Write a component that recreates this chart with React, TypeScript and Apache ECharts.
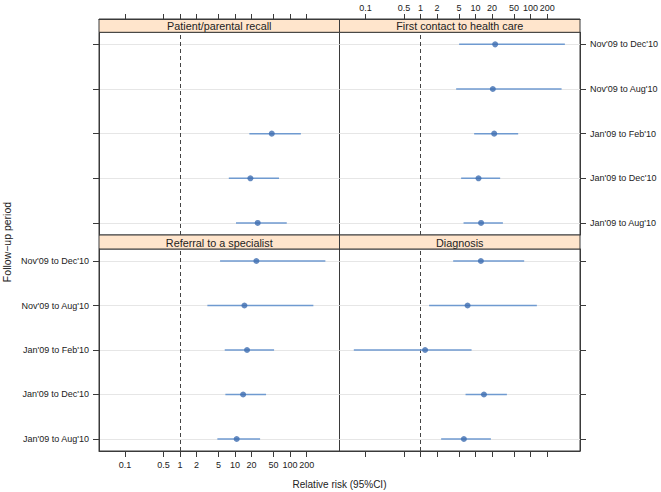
import React, { useEffect, useRef } from "react";
import * as echarts from "echarts";

// Follow-up periods, bottom row first
const periods = [
  "Jan'09 to Aug'10",
  "Jan'09 to Dec'10",
  "Jan'09 to Feb'10",
  "Nov'09 to Aug'10",
  "Nov'09 to Dec'10",
];

const panelTitles = [
  "Patient/parental recall",
  "First contact to health care",
  "Referral to a specialist",
  "Diagnosis",
];

const xTicks = [0.1, 0.5, 1, 2, 5, 10, 20, 50, 100, 200];

// Relative risks with 95% CI, per panel (same order as periods)
const recallRR = [25.8, 19.0, 46.5, null, null];
const recallLo = [10.4, 7.7, 18.2, null, null];
const recallHi = [87, 63, 157, null, null];

const firstRR = [12.6, 11.3, 21.8, 20.6, 22.7];
const firstLo = [6.05, 5.47, 9.43, 4.44, 5.03];
const firstHi = [31.4, 28, 59.5, 366, 420];

const referralRR = [10.7, 14.0, 16.5, 14.8, 24.4];
const referralLo = [4.77, 6.67, 6.49, 3.14, 5.34];
const referralHi = [28.5, 36.6, 51.2, 265, 438];

const diagRR = [6.13, 14.2, 1.21, 7.16, 12.5];
const diagLo = [2.37, 6.58, 0.0613, 1.43, 3.92];
const diagHi = [19.0, 37.1, 8.46, 130, 76.5];

const panelRR = [recallRR, firstRR, referralRR, diagRR];
const panelLo = [recallLo, firstLo, referralLo, diagLo];
const panelHi = [recallHi, firstHi, referralHi, diagHi];

const FONT = "'Liberation Sans', Arial, Helvetica, sans-serif";
const BORDER = "#3a3a3a";
const TEXT = "#222";
const DOT = "#3d6db0";
const CI = "#6f9ad0";
const STRIP = "#FFE5CC";

const XMIN = Math.pow(10, -1.4727);
const XMAX = Math.pow(10, 2.8982);

export default function App() {
  const ref = useRef<HTMLDivElement>(null);

  useEffect(() => {
    if (!ref.current) return;
    const chart = echarts.init(ref.current, null, { renderer: "svg" });

    const L = 99;
    const W = 240.5;
    const panels = [
      { left: L, top: 32.3, height: 202.7, stripTop: 19 },
      { left: L + W, top: 32.3, height: 202.7, stripTop: 19 },
      { left: L, top: 249, height: 202, stripTop: 235 },
      { left: L + W, top: 249, height: 202, stripTop: 235 },
    ];

    const grid = panels.map((p) => ({
      left: p.left,
      top: p.top,
      width: W,
      height: p.height,
      show: true,
      borderColor: BORDER,
      borderWidth: 1,
      backgroundColor: "transparent",
      containLabel: false,
    }));

    const xAxis = panels.map((p, i) => ({
      type: "log",
      logBase: 10,
      gridIndex: i,
      min: XMIN,
      max: XMAX,
      position: i < 2 ? "top" : "bottom",
      offset: i < 2 ? p.top - p.stripTop : 0,
      axisLine: { show: true, onZero: false, lineStyle: { color: BORDER, width: 1 } },
      axisTick: {
        show: true,
        inside: false,
        length: i < 2 ? 5 : 6,
        customValues: xTicks,
        lineStyle: { color: BORDER, width: 1 },
      },
      axisLabel: {
        show: i === 1 || i === 2,
        customValues: xTicks,
        formatter: (v: number) => String(v),
        fontSize: 9,
        color: TEXT,
        fontFamily: FONT,
        margin: i < 2 ? 7 : 9,
      },
      splitLine: { show: false },
      minorTick: { show: false },
      minorSplitLine: { show: false },
    }));

    const yAxis = panels.map((p, i) => ({
      type: "value",
      gridIndex: i,
      min: 0.73,
      max: 5.27,
      position: i % 2 === 0 ? "left" : "right",
      axisLine: { show: true, onZero: false, lineStyle: { color: BORDER, width: 1 } },
      axisTick: {
        show: true,
        inside: false,
        length: 6,
        customValues: [1, 2, 3, 4, 5],
        lineStyle: { color: BORDER, width: 1 },
      },
      axisLabel: {
        show: i === 1 || i === 2,
        customValues: [1, 2, 3, 4, 5],
        formatter: (v: number) => periods[Math.round(v) - 1] ?? "",
        fontSize: 9,
        color: TEXT,
        fontFamily: FONT,
        margin: 10,
      },
      splitLine: { show: true, lineStyle: { color: "#e6e6e6", width: 1 } },
    }));

    const series: any[] = [];
    panels.forEach((_, i) => {
      const rows: number[][] = [];
      panelRR[i].forEach((rr, k) => {
        if (rr != null) rows.push([rr as number, k + 1, panelLo[i][k] as number, panelHi[i][k] as number]);
      });
      series.push({
        type: "custom",
        xAxisIndex: i,
        yAxisIndex: i,
        silent: true,
        encode: { x: 0, y: 1 },
        data: rows,
        renderItem: (params: any, api: any) => {
          const y = api.value(1);
          const a = api.coord([api.value(2), y]);
          const b = api.coord([api.value(3), y]);
          return {
            type: "line",
            shape: { x1: a[0], y1: a[1], x2: b[0], y2: b[1] },
            style: { stroke: CI, lineWidth: 1.5 },
          };
        },
        z: 2,
      });
      series.push({
        type: "scatter",
        xAxisIndex: i,
        yAxisIndex: i,
        silent: true,
        symbol: "circle",
        symbolSize: 6,
        itemStyle: { color: DOT },
        data: rows.map((r) => [r[0], r[1]]),
        z: 3,
        markLine: {
          silent: true,
          symbol: ["none", "none"],
          label: { show: false },
          lineStyle: { color: "#444", width: 1, type: [4, 3] },
          data: [{ xAxis: 1 }],
          z: 1,
        },
      });
    });

    const graphic: any[] = [];
    panels.forEach((p, i) => {
      const h = p.top - p.stripTop;
      graphic.push({
        type: "rect",
        shape: { x: p.left, y: p.stripTop, width: W, height: h },
        style: { fill: STRIP, stroke: BORDER, lineWidth: 1 },
        silent: true,
      });
      graphic.push({
        type: "text",
        x: p.left + W / 2,
        y: p.stripTop + h / 2 + 0.5,
        style: {
          text: panelTitles[i],
          font: `10.8px ${FONT}`,
          fill: TEXT,
          align: "center",
          verticalAlign: "middle",
        },
        silent: true,
      });
    });
    graphic.push({
      type: "text",
      x: L + W,
      y: 484,
      style: {
        text: "Relative risk (95%CI)",
        font: `10px ${FONT}`,
        fill: TEXT,
        align: "center",
        verticalAlign: "middle",
      },
      silent: true,
    });
    graphic.push({
      type: "text",
      x: 7,
      y: 242,
      rotation: Math.PI / 2,
      style: {
        text: "Follow\u2212up period",
        font: `10.5px ${FONT}`,
        fill: TEXT,
        align: "center",
        verticalAlign: "middle",
      },
      silent: true,
    });

    chart.setOption({
      animation: false,
      backgroundColor: "#ffffff",
      textStyle: { fontFamily: FONT },
      grid,
      xAxis,
      yAxis,
      series,
      graphic,
    });

    return () => chart.dispose();
  }, []);

  return (
    <div
      ref={ref}
      style={{ position: "absolute", left: 0, top: 0, width: 661, height: 492 }}
    />
  );
}
